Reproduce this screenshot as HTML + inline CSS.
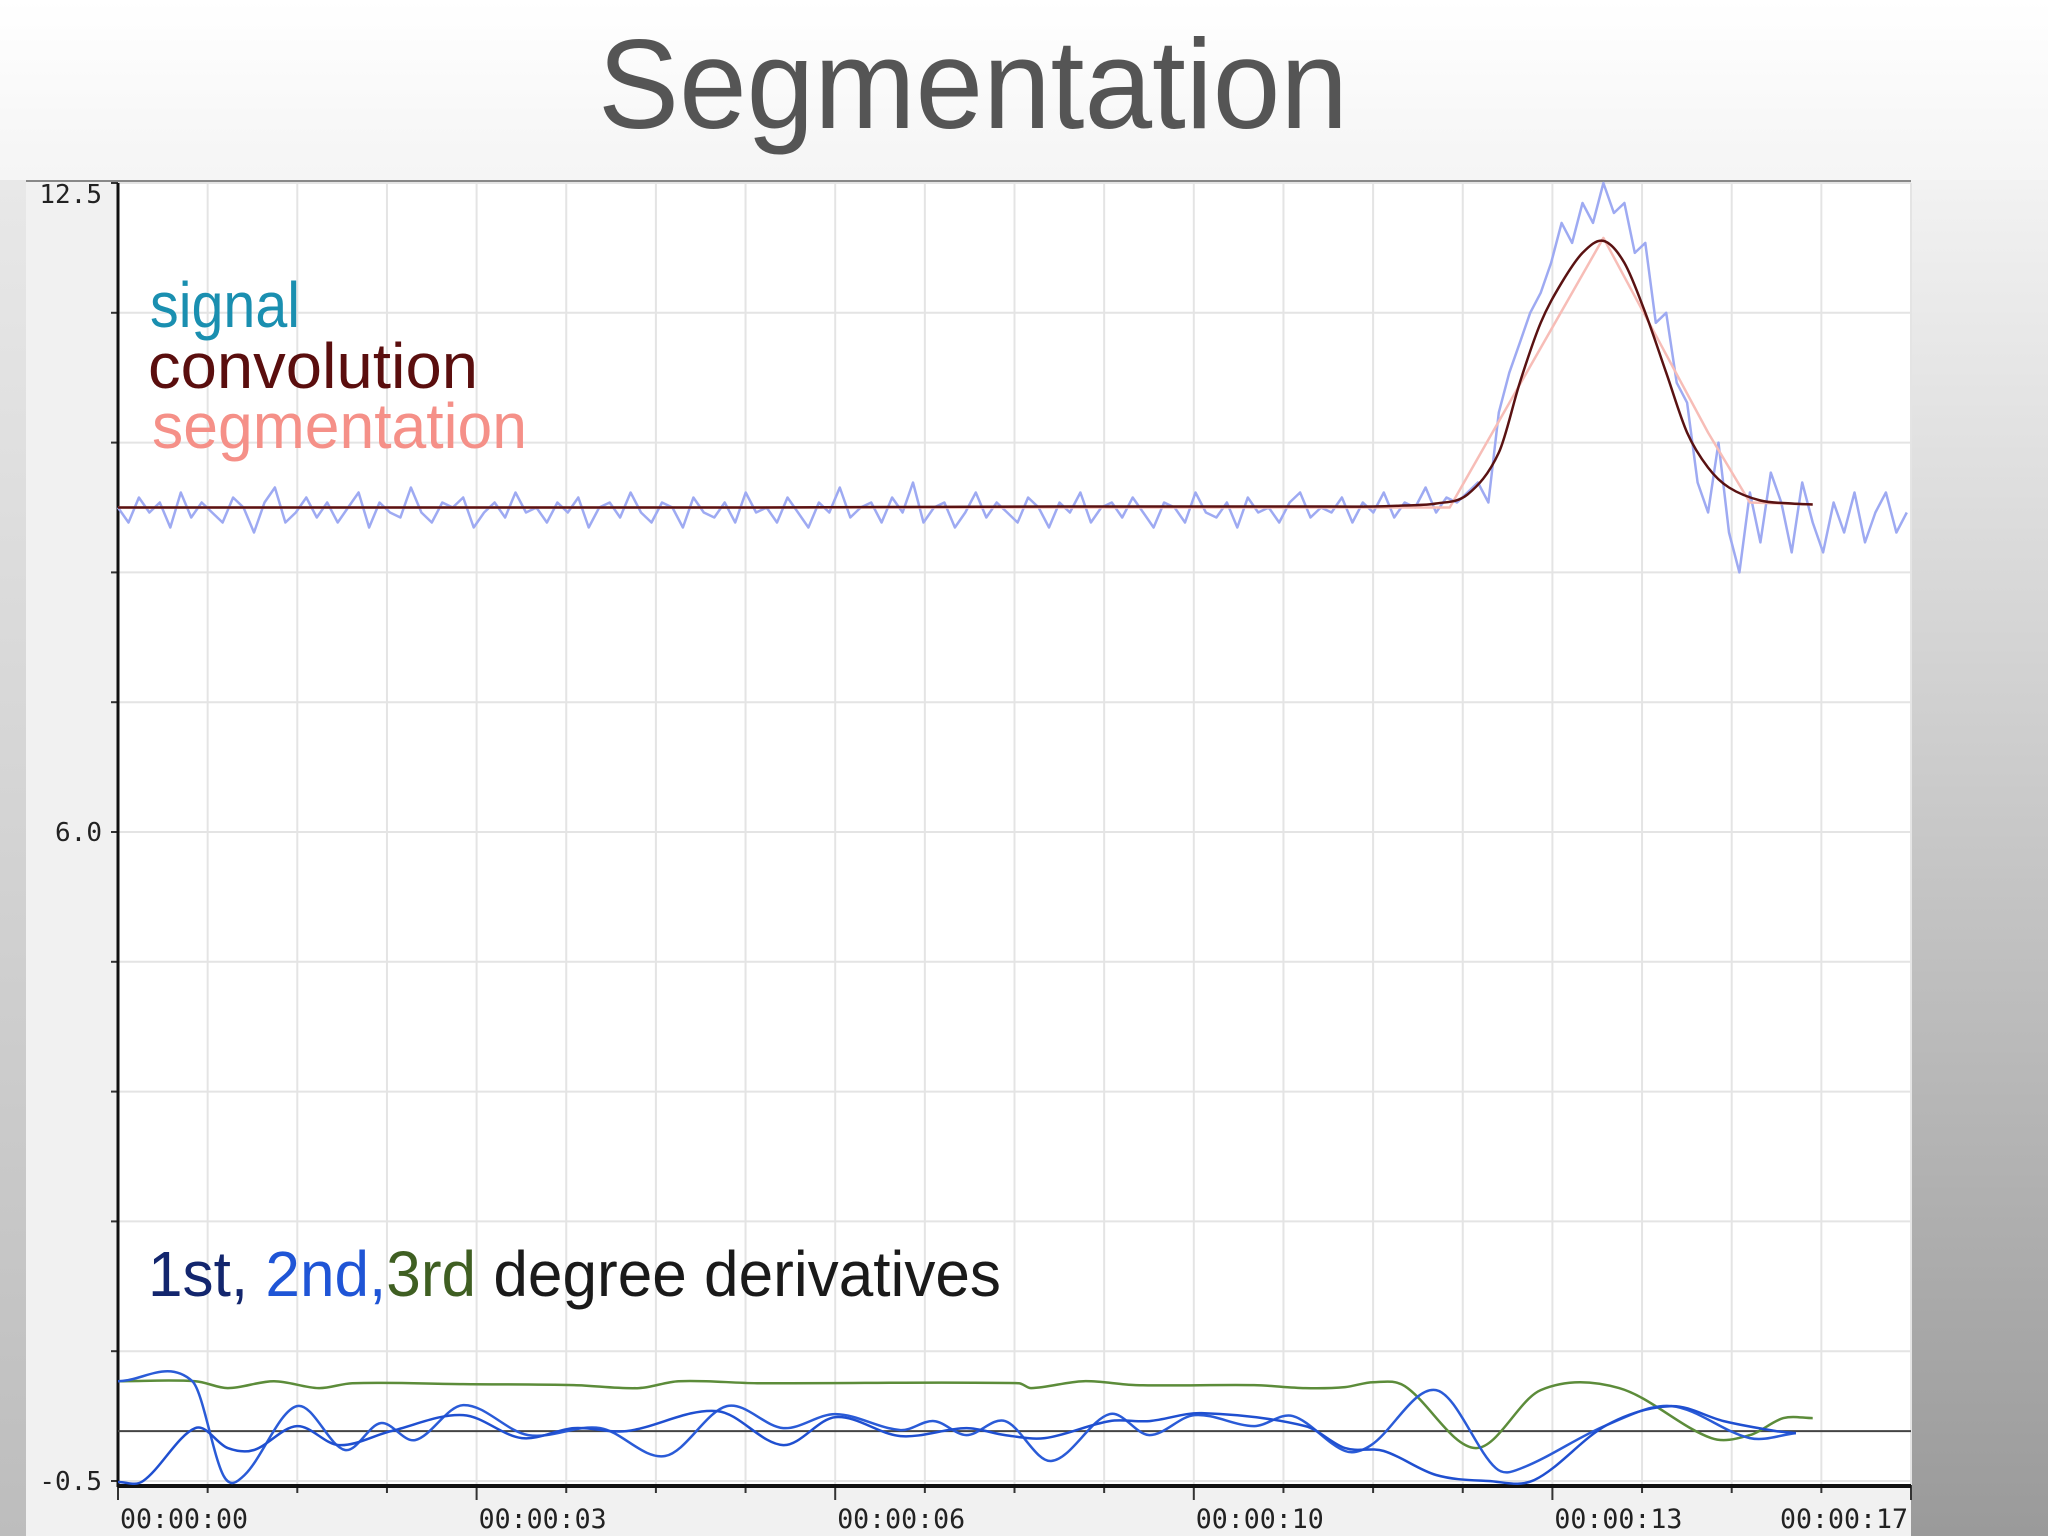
<!DOCTYPE html>
<html><head><meta charset="utf-8"><style>
html,body{margin:0;padding:0;}
body{width:2048px;height:1536px;overflow:hidden;background:linear-gradient(180deg,#ffffff 0%,#f6f6f6 10%,#d8d8d8 55%,#a8a8a8 100%);font-family:"Liberation Sans",sans-serif;}
svg{position:absolute;left:0;top:0;}
</style></head><body>
<svg id="chart" width="2048" height="1536" viewBox="0 0 2048 1536" xmlns="http://www.w3.org/2000/svg">
<defs>
<linearGradient id="side" x1="0" y1="0" x2="0" y2="1"><stop offset="0" stop-color="#e8e8e8"/><stop offset="1" stop-color="#bdbdbd"/></linearGradient>
<linearGradient id="rside" x1="0" y1="0" x2="0" y2="1"><stop offset="0" stop-color="#f2f2f2"/><stop offset="1" stop-color="#9a9a9a"/></linearGradient>
</defs>
<rect x="0" y="180" width="26" height="1356" fill="url(#side)"/>
<rect x="1911" y="180" width="137" height="1356" fill="url(#rside)"/>
<rect x="26" y="180" width="1885" height="1356" fill="#f1f1f1"/>
<rect x="118" y="183" width="1793" height="1302" fill="#ffffff"/>
<line x1="26" y1="181" x2="1911" y2="181" stroke="#888" stroke-width="2"/>
<text x="973" y="128" text-anchor="middle" font-size="127" fill="#555" textLength="750" lengthAdjust="spacingAndGlyphs" font-family="'Liberation Sans',sans-serif">Segmentation</text>
<g id="grid"></g>
<g id="axes"></g>
<g id="series"></g>
<g font-size="64">
<text x="150" y="327" fill="#1a8fb0" textLength="150" lengthAdjust="spacingAndGlyphs">signal</text>
<text x="148" y="388" fill="#5a0e0e" textLength="330" lengthAdjust="spacingAndGlyphs">convolution</text>
<text x="152" y="448" fill="#f59088" textLength="375" lengthAdjust="spacingAndGlyphs">segmentation</text>
</g>
<text x="148" y="1296" font-size="64" textLength="853" lengthAdjust="spacingAndGlyphs"><tspan fill="#13266e">1st, </tspan><tspan fill="#1f55d6">2nd,</tspan><tspan fill="#3f5f22">3rd</tspan><tspan fill="#1a1a1a"> degree derivatives</tspan></text>
</svg>
<script>
const xTickLabels=["00:00:00","00:00:03","00:00:06","00:00:10","00:00:13","00:00:17"];
const yTickLabels=["12.5","6.0","-0.5"];
const yTickValues=[12.5,6.0,-0.5];
const signalValues=[9.25,9.1,9.35,9.2,9.3,9.05,9.4,9.15,9.3,9.2,9.1,9.35,9.25,9.0,9.3,9.45,9.1,9.2,9.35,9.15,9.3,9.1,9.25,9.4,9.05,9.3,9.2,9.15,9.45,9.2,9.1,9.3,9.25,9.35,9.05,9.2,9.3,9.15,9.4,9.2,9.25,9.1,9.3,9.2,9.35,9.05,9.25,9.3,9.15,9.4,9.2,9.1,9.3,9.25,9.05,9.35,9.2,9.15,9.3,9.1,9.4,9.2,9.25,9.1,9.35,9.2,9.05,9.3,9.2,9.45,9.15,9.25,9.3,9.1,9.35,9.2,9.5,9.1,9.25,9.3,9.05,9.2,9.4,9.15,9.3,9.2,9.1,9.35,9.25,9.05,9.3,9.2,9.4,9.1,9.25,9.3,9.15,9.35,9.2,9.05,9.3,9.25,9.1,9.4,9.2,9.15,9.3,9.05,9.35,9.2,9.25,9.1,9.3,9.4,9.15,9.25,9.2,9.35,9.1,9.3,9.2,9.4,9.15,9.3,9.25,9.45,9.2,9.35,9.3,9.4,
9.5,9.3,10.2,10.6,10.9,11.2,11.4,11.7,12.1,11.9,12.3,12.1,12.5,12.2,12.3,11.8,11.9,11.1,11.2,10.5,10.3,9.5,9.2,9.9,9.0,8.6,9.4,8.9,9.6,9.3,8.8,9.5,9.1,8.8,9.3,9.0,9.4,8.9,9.2,9.4,9.0,9.2];
const signalStep=0.1;
const convTimes=[0,3,6,9,11.4,12.0,12.3,12.6,12.9,13.2,13.4,13.6,13.8,14.0,14.2,14.4,14.6,14.8,15.0,15.2,15.4,15.7,16.0,16.2];
const convValues=[9.25,9.25,9.25,9.26,9.26,9.26,9.27,9.29,9.38,9.8,10.5,11.1,11.5,11.8,11.92,11.7,11.2,10.6,10.0,9.65,9.45,9.32,9.29,9.28];
const segTimes=[0,12.73,14.2,15.2,15.6,16.2];
const segValues=[9.25,9.25,11.95,10.0,9.3,9.28];
const d3Times=[0,0.74,1.05,1.49,1.92,2.24,3.30,4.36,4.98,5.36,6.11,8.61,8.73,9.23,9.73,10.86,11.35,11.73,12.0,12.30,12.98,13.6,14.35,15.23,15.6,15.92,16.2];
const d3Values=[0.50,0.50,0.43,0.50,0.43,0.48,0.47,0.46,0.43,0.50,0.48,0.48,0.43,0.50,0.46,0.46,0.43,0.44,0.49,0.45,-0.17,0.41,0.43,-0.07,-0.04,0.13,0.13];
const d1Times=[0,0.71,1.01,1.21,1.71,2.17,2.51,2.84,3.30,3.92,4.61,5.23,5.82,6.36,6.86,7.48,7.80,8.11,8.48,8.92,9.48,9.86,10.29,10.86,11.23,11.73,11.98,12.60,13.17,13.42,14.23,14.85,15.60,16.04];
const d1Values=[0.50,0.50,-0.45,-0.44,0.25,-0.19,0.08,-0.09,0.26,-0.04,0.03,-0.25,0.25,0.03,0.17,0.01,0.10,-0.04,0.10,-0.30,0.17,-0.04,0.16,0.05,0.15,-0.20,-0.14,0.41,-0.37,-0.37,0.06,0.25,-0.07,-0.02];
const d2Times=[0,0.24,0.74,1.05,1.30,1.71,2.11,2.61,3.30,3.86,4.36,4.86,5.73,6.36,6.86,7.48,8.11,8.48,8.86,9.48,9.86,10.36,11.35,11.73,12.10,12.60,13.10,13.54,14.23,14.85,15.35,15.85,16.04];
const d2Values=[-0.51,-0.50,0.03,-0.17,-0.19,0.05,-0.14,0.00,0.16,-0.07,0.03,0.00,0.20,-0.14,0.14,-0.05,0.03,-0.04,-0.07,0.10,0.10,0.18,0.05,-0.17,-0.20,-0.44,-0.50,-0.49,0.06,0.25,0.10,0.00,-0.02];

const NS='http://www.w3.org/2000/svg';
const L=118,R=1911,T=183,B=1481,TMAX=17.14;
const X=t=>L+t*(R-L)/TMAX;
const Y=v=>T+(12.5-v)*(B-T)/13;
function mk(tag,attrs,parent){const e=document.createElementNS(NS,tag);for(const k in attrs)e.setAttribute(k,attrs[k]);parent.appendChild(e);return e;}
const grid=document.getElementById('grid'),axes=document.getElementById('axes'),series=document.getElementById('series');
for(let i=0;i<=20;i++){const x=X(i*TMAX/20);
 const g=mk('line',{x1:x,y1:T,x2:x,y2:1485,stroke:'#e4e4e4','stroke-width':2},grid);
 
 
 const tk=mk('line',{x1:x,y1:1485,x2:x,y2:i%4===0?1500:1493,stroke:'#333','stroke-width':2},axes);
 
 }
for(let i=0;i<=10;i++){const v=12.5-i*1.3,y=Y(v);
 const g=mk('line',{x1:L,y1:y,x2:R,y2:y,stroke:'#e4e4e4','stroke-width':2},grid);
 
 
 const tk=mk('line',{x1:L-7,y1:y,x2:L,y2:y,stroke:'#333','stroke-width':2},axes);
 
 }
yTickLabels.forEach((s,i)=>{const t=mk('text',{x:102,y:Y(yTickValues[i])+(i===0?20:9),'text-anchor':'end','font-size':26,fill:'#222','font-family':"'DejaVu Sans Mono',monospace"},axes);t.textContent=s;
 
 });
xTickLabels.forEach((s,i)=>{const last=i===xTickLabels.length-1;const t=mk('text',{x:last?R-3:X(i*TMAX/5)+2,y:1528,'text-anchor':last?'end':'start','font-size':27,fill:'#222','font-family':"'DejaVu Sans Mono',monospace",textLength:128,lengthAdjust:'spacingAndGlyphs'},axes);t.textContent=s;
 
 });
const ya=mk('line',{x1:L,y1:183,x2:L,y2:1487,stroke:'#111','stroke-width':3},axes);


const xa=mk('line',{x1:L,y1:1486,x2:R,y2:1486,stroke:'#111','stroke-width':4},axes);


const zl=mk('line',{x1:L,y1:Y(0),x2:R,y2:Y(0),stroke:'#444','stroke-width':2},axes);


function path(ts,vs,color,w,name,smooth){
 const P=ts.map((t,i)=>[X(t),Y(vs[i])]);let d='M'+P[0][0].toFixed(1)+','+P[0][1].toFixed(1);
 for(let i=1;i<P.length;i++){
  if(!smooth){d+='L'+P[i][0].toFixed(1)+','+P[i][1].toFixed(1);continue;}
  const p0=P[Math.max(0,i-2)],p1=P[i-1],p2=P[i],p3=P[Math.min(P.length-1,i+1)];
  const seg=p2[0]-p1[0];
  const s1=(p2[1]-p0[1])/Math.max(1,p2[0]-p0[0]),s2=(p3[1]-p1[1])/Math.max(1,p3[0]-p1[0]);
  const c1=[p1[0]+seg/3,p1[1]+s1*seg/3],c2=[p2[0]-seg/3,p2[1]-s2*seg/3];
  d+='C'+c1.map(n=>n.toFixed(1)).join(',')+' '+c2.map(n=>n.toFixed(1)).join(',')+' '+p2[0].toFixed(1)+','+p2[1].toFixed(1);}
 const p=mk('path',{d:d,fill:'none',stroke:color,'stroke-width':w,'stroke-linejoin':'round'},series);
 
 }
path(signalValues.map((v,i)=>i*signalStep),signalValues,'#9eaaf2',2.5,'signal-line',false);
path(segTimes,segValues,'#f7bdb7',2.5,'segmentation-line',false);
path(convTimes,convValues,'#5a1212',2.5,'convolution-line',true);
path(d3Times,d3Values,'#5c8c3a',2.5,'third-derivative-line',true);
path(d1Times,d1Values,'#2a5bd7',2.5,'first-derivative-line',true);
path(d2Times,d2Values,'#1f4fd0',2.5,'second-derivative-line',true);
</script>
</body></html>
